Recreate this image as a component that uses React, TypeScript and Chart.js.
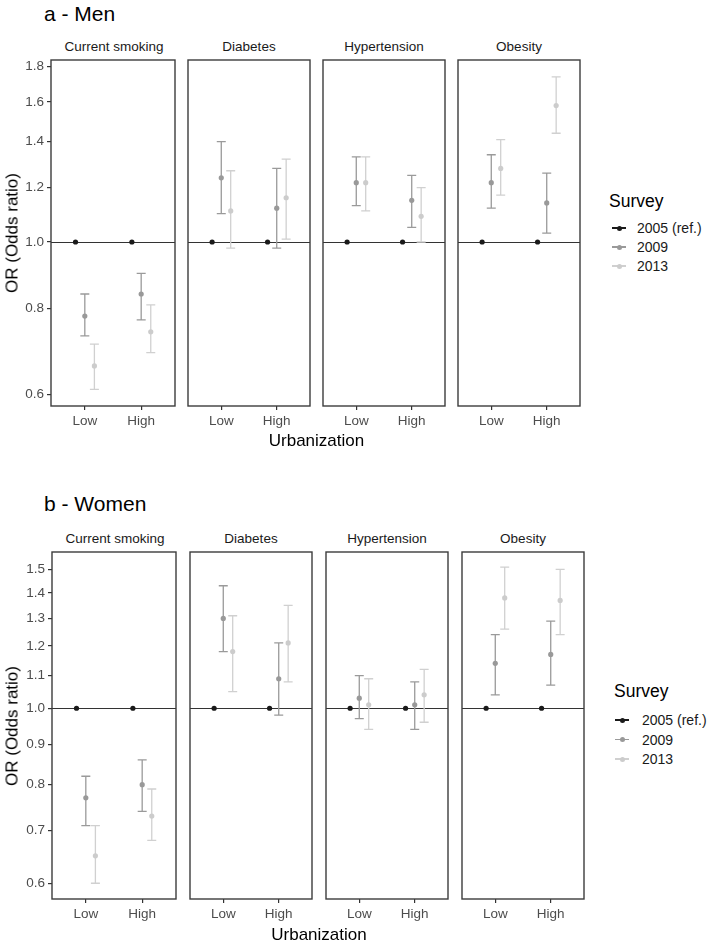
import React, { useEffect, useRef } from "react";
import { Chart, registerables } from "chart.js";

Chart.register(...registerables);

// ---------------- DATA ----------------
const categories = ["Low", "High"];
const surveys = ["2005 (ref.)", "2009", "2013"];
const outcomes = ["Current smoking", "Diabetes", "Hypertension", "Obesity"];

const menTicks = [0.6, 0.8, 1.0, 1.2, 1.4, 1.6, 1.8];
const womenTicks = [0.6, 0.7, 0.8, 0.9, 1.0, 1.1, 1.2, 1.3, 1.4, 1.5];

// reference survey (2005): OR = 1 for Low / High
const ref2005OR = [1, 1];

// Men – per outcome: [Low, High]
const men2009OR = [[0.78, 0.84], [1.24, 1.12], [1.22, 1.15], [1.22, 1.14]];
const men2009Lo = [[0.73, 0.77], [1.10, 0.98], [1.13, 1.05], [1.12, 1.03]];
const men2009Hi = [[0.84, 0.90], [1.40, 1.28], [1.33, 1.25], [1.34, 1.26]];
const men2013OR = [[0.66, 0.74], [1.11, 1.16], [1.22, 1.09], [1.28, 1.58]];
const men2013Lo = [[0.61, 0.69], [0.98, 1.01], [1.11, 1.00], [1.17, 1.44]];
const men2013Hi = [[0.71, 0.81], [1.27, 1.32], [1.33, 1.20], [1.41, 1.74]];

// Women – per outcome: [Low, High]
const women2009OR = [[0.77, 0.80], [1.30, 1.09], [1.03, 1.01], [1.14, 1.17]];
const women2009Lo = [[0.71, 0.74], [1.18, 0.98], [0.97, 0.94], [1.04, 1.07]];
const women2009Hi = [[0.82, 0.86], [1.43, 1.21], [1.10, 1.08], [1.24, 1.29]];
const women2013OR = [[0.65, 0.73], [1.18, 1.21], [1.01, 1.04], [1.38, 1.37]];
const women2013Lo = [[0.60, 0.68], [1.05, 1.08], [0.94, 0.96], [1.26, 1.24]];
const women2013Hi = [[0.71, 0.79], [1.31, 1.35], [1.09, 1.12], [1.51, 1.50]];

// ---------------- STYLE / LAYOUT ----------------
const FONT = "'Liberation Sans', Arial, Helvetica, sans-serif";
const COLORS = ["#1a1a1a", "#999999", "#cccccc"];
const BAR_COLORS = ["#1a1a1a", "#9a9a9a", "#d0d0d0"];
const DODGE = [-0.165, 0, 0.17];
const PAD_TOP = 6;
const AXIS_H = 34;

type PanelCfg = {
  title: string;
  titleY: number;
  stripY: number;
  boxTop: number;
  boxBottom: number;
  boxLeft0: number;
  step: number;
  boxW: number;
  yMin: number;
  yMax: number;
  ticks: number[];
  xTitleY: number;
  legTitleX: number;
  legTitleY: number;
  legGlyphX: number;
  legTextX: number;
  legYs: number[];
  or09: number[][];
  lo09: number[][];
  hi09: number[][];
  or13: number[][];
  lo13: number[][];
  hi13: number[][];
};

const panels: PanelCfg[] = [
  {
    title: "a - Men",
    titleY: 13,
    stripY: 47,
    boxTop: 60,
    boxBottom: 406,
    boxLeft0: 51,
    step: 135,
    boxW: 126,
    yMin: 0.577,
    yMax: 1.841,
    ticks: menTicks,
    xTitleY: 440,
    legTitleX: 609,
    legTitleY: 202,
    legGlyphX: 612,
    legTextX: 637,
    legYs: [228, 247, 266],
    or09: men2009OR, lo09: men2009Lo, hi09: men2009Hi,
    or13: men2013OR, lo13: men2013Lo, hi13: men2013Hi,
  },
  {
    title: "b - Women",
    titleY: 503,
    stripY: 539,
    boxTop: 552,
    boxBottom: 899,
    boxLeft0: 52,
    step: 136,
    boxW: 126,
    yMin: 0.573,
    yMax: 1.578,
    ticks: womenTicks,
    xTitleY: 934,
    legTitleX: 614,
    legTitleY: 692,
    legGlyphX: 615,
    legTextX: 642,
    legYs: [720, 739.5, 759],
    or09: women2009OR, lo09: women2009Lo, hi09: women2009Hi,
    or13: women2013OR, lo13: women2013Lo, hi13: women2013Hi,
  },
];

const facetPlugin = {
  id: "facetDecor",
  beforeDatasetsDraw(chart: any) {
    const { ctx, chartArea: a, scales } = chart;
    const x = scales.x;
    const y = scales.y;
    ctx.save();
    const y1 = Math.round(y.getPixelForValue(1)) + 0.5;
    ctx.strokeStyle = "#333333";
    ctx.lineWidth = 1;
    ctx.beginPath();
    ctx.moveTo(a.left, y1);
    ctx.lineTo(a.right, y1);
    ctx.stroke();
    chart.data.datasets.forEach((ds: any) => {
      if (!ds.lo) return;
      ctx.strokeStyle = ds.barColor;
      ctx.lineWidth = 1.3;
      ds.data.forEach((p: any, i: number) => {
        const px = x.getPixelForValue(p.x);
        const yl = y.getPixelForValue(ds.lo[i]);
        const yh = y.getPixelForValue(ds.hi[i]);
        ctx.beginPath();
        ctx.moveTo(px, yl);
        ctx.lineTo(px, yh);
        ctx.moveTo(px - 4.5, yl);
        ctx.lineTo(px + 4.5, yl);
        ctx.moveTo(px - 4.5, yh);
        ctx.lineTo(px + 4.5, yh);
        ctx.stroke();
      });
    });
    ctx.restore();
  },
  afterDraw(chart: any) {
    const { ctx, chartArea: a } = chart;
    ctx.save();
    ctx.strokeStyle = "#3c3c3c";
    ctx.lineWidth = 1.4;
    ctx.strokeRect(a.left, a.top, a.right - a.left, a.bottom - a.top);
    ctx.restore();
  },
};

function facetGeom(p: PanelCfg, fi: number) {
  const boxLeft = p.boxLeft0 + fi * p.step;
  const first = fi === 0;
  const left = first ? 0 : boxLeft - 2;
  const width = first ? p.boxLeft0 + p.boxW + 2 : p.boxW + 4;
  const top = p.boxTop - PAD_TOP;
  const height = PAD_TOP + (p.boxBottom - p.boxTop) + AXIS_H;
  return { boxLeft, left, width, top, height, first };
}

function zeroPad(s: any) {
  s.paddingTop = 0;
  s.paddingBottom = 0;
  s.paddingLeft = 0;
  s.paddingRight = 0;
}

function makeChart(canvas: HTMLCanvasElement, p: PanelCfg, fi: number) {
  const g = facetGeom(p, fi);
  const seriesOR = [ref2005OR, p.or09[fi], p.or13[fi]];
  const seriesLo = [null, p.lo09[fi], p.lo13[fi]];
  const seriesHi = [null, p.hi09[fi], p.hi13[fi]];
  const datasets = surveys.map((s, si) => ({
    label: s,
    data: categories.map((c, ci) => ({ x: ci + 1 + DODGE[si], y: seriesOR[si][ci] })),
    lo: seriesLo[si],
    hi: seriesHi[si],
    barColor: BAR_COLORS[si],
    backgroundColor: COLORS[si],
    borderColor: COLORS[si],
    pointRadius: 2.6,
    pointBorderWidth: 0,
    showLine: false,
  }));
  return new Chart(canvas, {
    type: "scatter",
    data: { datasets } as any,
    plugins: [facetPlugin as any],
    options: {
      animation: false,
      responsive: false,
      maintainAspectRatio: false,
      devicePixelRatio: 1,
      layout: { padding: { top: PAD_TOP, bottom: 0, left: g.first ? 0 : 2, right: 2 } },
      plugins: { legend: { display: false }, tooltip: { enabled: false } },
      events: [],
      scales: {
        x: {
          type: "linear",
          min: 0.4,
          max: 2.6,
          bounds: "data",
          afterBuildTicks: (s: any) => {
            s.ticks = categories.map((c, i) => ({ value: i + 1 }));
          },
          afterFit: (s: any) => {
            s.height = AXIS_H;
            zeroPad(s);
          },
          border: { display: false },
          grid: { drawOnChartArea: false, drawTicks: true, tickLength: 4, color: "#333333", lineWidth: 1.2 },
          ticks: {
            padding: 3,
            color: "#4d4d4d",
            font: { family: FONT, size: 13.5 },
            maxRotation: 0,
            autoSkip: false,
            callback: (v: any) => categories[Math.round(Number(v)) - 1] ?? "",
          },
        },
        y: {
          type: "logarithmic",
          display: g.first,
          min: p.yMin,
          max: p.yMax,
          bounds: "data",
          afterBuildTicks: (s: any) => {
            s.ticks = p.ticks.map((v) => ({ value: v }));
          },
          afterFit: (s: any) => {
            s.width = g.first ? p.boxLeft0 : 0;
            zeroPad(s);
          },
          border: { display: false },
          grid: { drawOnChartArea: false, drawTicks: true, tickLength: 4, color: "#333333", lineWidth: 1.2 },
          ticks: {
            padding: 3,
            color: "#4d4d4d",
            font: { family: FONT, size: 13.5 },
            autoSkip: false,
            callback: (v: any) => Number(v).toFixed(1),
          },
        },
      },
    } as any,
  });
}

const Txt = (props: {
  x: number;
  y: number;
  size: number;
  children: React.ReactNode;
  anchor?: "start" | "middle";
  color?: string;
  rotate?: boolean;
}) => {
  const tx = props.anchor === "middle" || props.rotate ? "-50%" : "0";
  return (
    <div
      style={{
        position: "absolute",
        left: props.x,
        top: props.y,
        transform: `translate(${tx}, -50%)${props.rotate ? " rotate(-90deg)" : ""}`,
        fontFamily: FONT,
        fontSize: props.size,
        lineHeight: 1,
        whiteSpace: "nowrap",
        color: props.color ?? "#000",
      }}
    >
      {props.children}
    </div>
  );
};

export default function App() {
  const refs = useRef<(HTMLCanvasElement | null)[]>([]);

  useEffect(() => {
    const charts: Chart[] = [];
    panels.forEach((p, pi) => {
      outcomes.forEach((o, fi) => {
        const c = refs.current[pi * 4 + fi];
        if (c) charts.push(makeChart(c, p, fi));
      });
    });
    return () => charts.forEach((c) => c.destroy());
  }, []);

  return (
    <div
      style={{
        position: "absolute",
        left: 0,
        top: 0,
        width: 709,
        height: 942,
        background: "#fff",
        overflow: "hidden",
      }}
    >
      {panels.map((p, pi) => {
        const facetLeftStart = p.boxLeft0;
        const facetRightEnd = p.boxLeft0 + 3 * p.step + p.boxW;
        return (
          <React.Fragment key={pi}>
            <Txt x={44} y={p.titleY} size={21}>
              {p.title}
            </Txt>
            {outcomes.map((o, fi) => {
              const g = facetGeom(p, fi);
              return (
                <React.Fragment key={fi}>
                  <Txt x={g.boxLeft + p.boxW / 2} y={p.stripY} size={13.5} anchor="middle" color="#1a1a1a">
                    {o}
                  </Txt>
                  <canvas
                    ref={(el) => {
                      refs.current[pi * 4 + fi] = el;
                    }}
                    width={g.width}
                    height={g.height}
                    style={{
                      position: "absolute",
                      left: g.left,
                      top: g.top,
                      width: g.width,
                      height: g.height,
                    }}
                  />
                </React.Fragment>
              );
            })}
            <Txt x={(facetLeftStart + facetRightEnd) / 2} y={p.xTitleY} size={17} anchor="middle">
              Urbanization
            </Txt>
            <Txt x={11.5} y={(p.boxTop + p.boxBottom) / 2} size={17} rotate>
              OR (Odds ratio)
            </Txt>
            <Txt x={p.legTitleX} y={p.legTitleY} size={17.5}>
              Survey
            </Txt>
            {surveys.map((s, si) => (
              <React.Fragment key={si}>
                <div
                  style={{
                    position: "absolute",
                    left: p.legGlyphX,
                    top: p.legYs[si] - 0.6,
                    width: 14,
                    height: 1.2,
                    background: BAR_COLORS[si],
                  }}
                />
                <div
                  style={{
                    position: "absolute",
                    left: p.legGlyphX + 7 - 2.5,
                    top: p.legYs[si] - 2.5,
                    width: 5,
                    height: 5,
                    borderRadius: "50%",
                    background: COLORS[si],
                  }}
                />
                <Txt x={p.legTextX} y={p.legYs[si]} size={14} color="#1a1a1a">
                  {s}
                </Txt>
              </React.Fragment>
            ))}
          </React.Fragment>
        );
      })}
    </div>
  );
}
